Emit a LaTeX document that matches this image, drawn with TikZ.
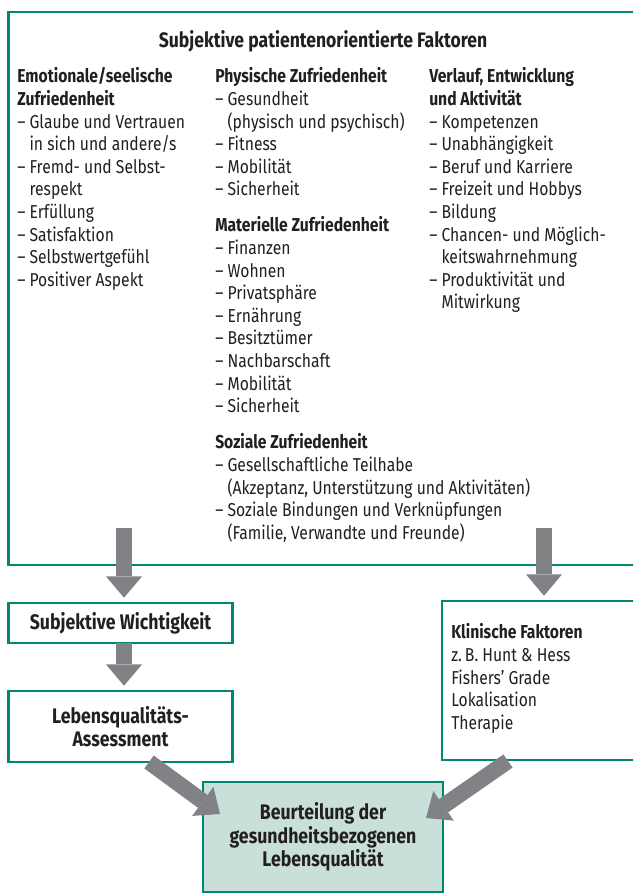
\documentclass[tikz,border=0pt]{standalone}
\usepackage{fontspec}
\setmainfont{Fira Sans}[FakeStretch=0.84]
\usetikzlibrary{arrows.meta}
\definecolor{tealc}{RGB}{0,135,112}
\definecolor{arrowgray}{RGB}{128,130,133}
\definecolor{lightteal}{RGB}{200,224,217}
\definecolor{textc}{RGB}{35,31,32}
\newcommand\ind{\hphantom{– }}
\tikzset{
  box/.style={draw=tealc, line width=1.9pt, inner sep=0pt},
  txt/.style={inner sep=0pt, text=textc, align=left, font=\fontsize{14}{16.95}\selectfont},
  ctxt/.style={inner sep=0pt, text=textc, align=center, font=\fontsize{15.8}{17.6}\selectfont\bfseries},
  fat/.style={draw=arrowgray, line width=12pt, -{Triangle[width=27pt,length=16pt,line width=0pt]}}
}
\begin{document}
\begin{tikzpicture}[x=0.75pt,y=-0.75pt]
\clip (0,0) rectangle (633,895);
\fill[white] (0,0) rectangle (633,895);
% boxes
\node[box, minimum width=481.1pt, minimum height=414.75pt] (main) at (329.25,288.5) {};
\node[box, minimum width=168pt, minimum height=30pt] (sw) at (120.5,623) {};
\node[box, minimum width=168pt, minimum height=53.25pt] (lq) at (120.5,726.5) {};
\node[box, minimum width=156pt, minimum height=119.25pt] (kl) at (546,680.5) {};
\node[box, fill=lightteal, minimum width=180pt, minimum height=82.5pt] (be) at (323,837) {};
% title and columns
\node[txt, anchor=base, font=\fontsize{15.7}{17}\selectfont\bfseries] (title) at (323,48) {Subjektive patientenorientierte Faktoren};
\node[txt, anchor=north west] (c1) at (17,67.5) {\textbf{Emotionale/seelische}\\\textbf{Zufriedenheit}\\
– Glaube und Vertrauen\\\ind in sich und andere/s\\
– Fremd- und Selbst-\\\ind respekt\\
– Erfüllung\\– Satisfaktion\\– Selbstwertgefühl\\– Positiver Aspekt};
\node[txt, anchor=north west] (c2a) at (215,67.5) {\textbf{Physische Zufriedenheit}\\– Gesundheit\\\ind(physisch und psychisch)\\– Fitness\\– Mobilität\\– Sicherheit};
\node[txt, anchor=north west] (c2b) at (215,216.5) {\textbf{Materielle Zufriedenheit}\\– Finanzen\\– Wohnen\\– Privatsphäre\\– Ernährung\\– Besitztümer\\– Nachbarschaft\\– Mobilität\\– Sicherheit};
\node[txt, anchor=north west] (c2c) at (215,433.5) {\textbf{Soziale Zufriedenheit}\\– Gesellschaftliche Teilhabe\\\ind(Akzeptanz, Unterstützung und Aktivitäten)\\– Soziale Bindungen und Verknüpfungen\\\ind(Familie, Verwandte und Freunde)};
\node[txt, anchor=north west] (c3) at (429,67.5) {\textbf{Verlauf, Entwicklung}\\\textbf{und Aktivität}\\– Kompetenzen\\– Unabhängigkeit\\– Beruf und Karriere\\– Freizeit und Hobbys\\– Bildung\\– Chancen- und Möglich-\\\ind keitswahrnehmung\\– Produktivität und\\\ind Mitwirkung};
% lower texts
\node[ctxt, anchor=base] (swt) at (sw.center |- 0,629.5) {Subjektive Wichtigkeit};
\node[ctxt] (lqt) at (lq.center) {Lebensqualitäts-\\Assessment};
\node[txt, anchor=north west] (klt) at (451,623.5) {\textbf{Klinische Faktoren}\\z.\,B. Hunt \& Hess\\Fishers’ Grade\\Lokalisation\\Therapie};
\node[ctxt] (bet) at (be.center) {Beurteilung der\\gesundheitsbezogenen\\Lebensqualität};
% arrows
\coordinate (s1) at (124,528);
\coordinate (s2) at (544,528);
\coordinate (s3) at (124,643);
\coordinate (s4) at (149,762);
\coordinate (t4) at (220,814);
\coordinate (s5) at (508,761);
\coordinate (t5) at (426,818);
\draw[fat, shorten >=3pt] (s1) -- (s1 |- sw.north);
\draw[fat, shorten >=3pt] (s2) -- (s2 |- kl.north);
\draw[fat, shorten >=3pt] (s3) -- (s3 |- lq.north);
\draw[fat] (s4) -- (t4);
\draw[fat] (s5) -- (t5);
\end{tikzpicture}
\end{document}
